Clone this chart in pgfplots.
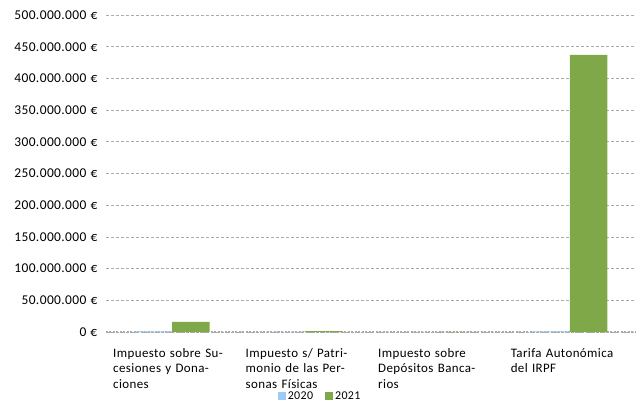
\documentclass[border=0pt]{standalone}
\usepackage{pgfplots}
\pgfplotsset{compat=1.18}
\usepackage{fontspec}
\setmainfont{Carlito}[LetterSpace=3, WordSpace=0.6]
\definecolor{c2020}{RGB}{157,203,245}
\definecolor{c2021}{RGB}{127,168,72}
\definecolor{gridc}{RGB}{170,170,170}
\begin{document}
\fontsize{13.5}{15.5}\selectfont
\begin{tikzpicture}
\useasboundingbox (-106bp,-74bp) rectangle (534bp,332bp);
\begin{axis}[
  at={(0,0)}, anchor=south west,
  scale only axis, width=530bp, height=317bp,
  xmin=-0.5, xmax=3.5, ymin=0, ymax=500000000,
  ybar=0pt, bar width=37.5bp,
  axis y line*=left, axis x line*=bottom,
  y axis line style={draw=none},
  x axis line style={gridc, dash pattern=on 2bp off 1.5bp, line width=1.2bp, -},
  ytick={0,50000000,...,500000000},
  ymajorgrids, major grid style={gridc, dash pattern=on 3bp off 2bp, line width=0.8bp},
  scaled y ticks=false,
  /pgf/number format/assume math mode=true,
  yticklabel={\pgfmathprintnumber[fixed,precision=0,1000 sep={.}]{\tick}\hspace{4bp}€},
  yticklabel style={font=\fontsize{13.5}{15}\selectfont, anchor=east, xshift=-4bp},
  xtick=data, xtick style={draw=none}, ytick style={draw=none},
  xticklabels={{Impuesto sobre Su-\\cesiones y Dona-\\ciones},{Impuesto s/ Patri-\\monio de las Per-\\sonas Físicas},{Impuesto sobre\\Depósitos Banca-\\rios},{Tarifa Autonómica\\del IRPF}},
  xticklabel style={align=left, text width=118bp, inner sep=0pt, anchor=north, yshift=-12bp, font=\fontsize{13}{15.5}\selectfont},
  legend style={at={(0.404,-0.203)}, anchor=center, draw=none, legend columns=2, font=\fontsize{12}{13}\selectfont,
    inner sep=0pt, /tikz/every even column/.append style={column sep=10bp}},
  legend image code/.code={\fill[#1] (0bp,-4bp) rectangle (8bp,4bp);},
]
\addplot[fill=c2020, draw=none] coordinates {(0,900000) (1,200000) (2,0) (3,900000)};
\addplot[fill=c2021, draw=none] coordinates {(0,16000000) (1,1500000) (2,100000) (3,437000000)};
\legend{2020,2021}
\end{axis}
\end{tikzpicture}
\end{document}
